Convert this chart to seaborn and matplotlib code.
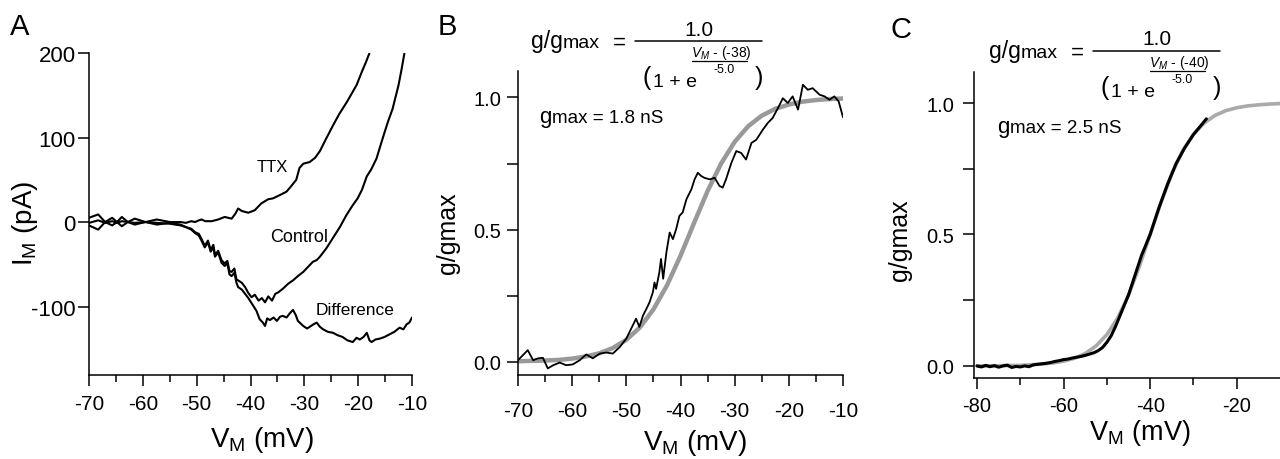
import numpy as np
import pandas as pd
import seaborn as sns
import matplotlib.pyplot as plt
from matplotlib.lines import Line2D
from matplotlib.ticker import MultipleLocator, FixedLocator

# ---- Panel A: I-V curves (mV, pA) ----
ttx_v = [-70, -68.3, -67, -65.7, -64.8, -63.9, -62.8, -61.5, -59.5, -57.4, -55, -53, -52,
         -51, -50.3, -49.6, -49.1, -48.4, -47.2, -46, -44.8, -43.5, -42.8, -42.3, -41.6,
         -40.4, -39.2, -38.0, -36.7, -35.8, -34.2, -33.3, -32.5, -31.5, -30.9, -30.2, -29,
         -28, -27.1, -26, -24.7, -23.5, -22.1, -21.2, -20.3, -19.3, -18.5, -17.9]
ttx_i = [5, 9, 0, 5, 0, 6, 0, 4, 0, 3, 0, 0, -1,
         1, 0, 2, 3, 1, 1, 3, 6, 4, 10, 16, 13,
         11, 14, 22, 27, 28, 33, 36, 42, 50, 64, 69, 71,
         76, 84, 98, 114, 128, 142, 152, 162, 178, 190, 200]

ctrl_v = [-70, -68.3, -67, -65.7, -64.8, -63.9, -62.8, -61.5, -59.5, -57.4, -55, -53, -52,
          -51, -50.3, -49.6, -49.1, -48.5, -47.9, -47.4, -46.9, -46.6, -46.0, -45.4, -44.8,
          -44.3, -43.9, -43.5, -43.0, -42.6, -42.3, -41.6, -41.0, -40.4, -39.8, -39.2, -38.5,
          -37.9, -37.3, -36.7, -36.0, -35.4, -34.8, -34.0, -33.0, -32.1, -31.2, -30.2, -29.3,
          -28.4, -27.7, -27.1, -26.5, -25.9, -25.3, -24.7, -24.0, -23.4, -22.8, -22.2, -21.6,
          -21.0, -20.1, -19.3, -18.4, -17.6, -16.6, -15.4, -14.5, -13.6, -12.5, -11.9, -11.4]
ctrl_i = [-4, -9, 0, -4, 0, -5, 0, -3, 0, -3, -1, -3, -6,
          -8, -12, -14, -20, -28, -22, -33, -27, -39, -34, -45, -49,
          -46, -58, -59, -55, -68, -69, -72, -77, -84, -89, -86, -93,
          -90, -95, -88, -93, -85, -83, -79, -73, -69, -64, -59, -53,
          -47, -45, -41, -36, -31, -25, -19, -12, -6, 1, 8, 14,
          20, 28, 38, 54, 62, 75, 100, 118, 134, 162, 182, 200]

diff_v = [-70, -68.3, -67, -65.7, -64.8, -63.9, -62.8, -61.5, -59.5, -57.4, -55, -53, -52,
          -51, -50.3, -49.6, -49.1, -48.5, -47.9, -47.4, -46.9, -46.6, -46.0, -45.4, -44.8,
          -44.3, -43.9, -43.5, -43.0, -42.6, -42.3, -41.6, -41.0, -40.4, -39.8, -39.5, -38.9,
          -38.3, -37.7, -37.3, -36.9, -36.4, -35.7, -35.1, -34.5, -34.0, -33.3, -32.7, -32.1,
          -31.6, -31.2, -30.2, -29.5, -29.0, -28.3, -27.7, -27.1, -26.5, -25.6, -24.7, -23.8,
          -22.9, -22.0, -21.0, -20.3, -19.7, -19.0, -18.4, -17.9, -17.5, -16.8, -16.0, -15.1,
          -14.2, -13.3, -12.3, -11.6, -11.0, -10.5, -10.0]
diff_i = [-1, 2, -1, 1, -1, 1, 0, -1, 0, -1, -2, -4, -6,
          -9, -13, -16, -22, -30, -24, -35, -30, -41, -36, -48, -52,
          -49, -62, -64, -60, -72, -77, -80, -85, -90, -96, -99, -105,
          -115, -119, -123, -114, -116, -113, -117, -112, -111, -113, -108, -104,
          -110, -117, -123, -126, -124, -121, -119, -124, -127, -130, -131, -134,
          -136, -140, -142, -137, -139, -136, -131, -140, -142, -139, -138, -136,
          -133, -130, -125, -127, -121, -119, -113]

# ---- Panel B: normalised conductance, cell 1 ----
b_v = [-70, -69.1, -68.2, -67.2, -66.3, -65.4, -64.5, -63.5, -62.3, -61.1, -59.9, -58.6,
       -57.4, -56.2, -54.9, -53.7, -52.5, -51.2, -50.0, -48.8, -48.2, -47.6, -46.9, -46.3,
       -45.7, -45.1, -44.8, -44.5, -43.9, -43.6, -43.2, -42.6, -42.0, -41.4, -40.8, -40.2,
       -39.6, -38.9, -38.0, -37.4, -36.8, -36.2, -35.6, -34.6, -33.7, -32.8, -32.2, -31.6,
       -30.6, -29.7, -28.8, -27.9, -26.9, -26.0, -24.8, -23.9, -23.0, -22.0, -21.1, -20.2,
       -19.3, -18.3, -17.4, -16.5, -15.6, -14.3, -13.4, -12.5, -11.6, -10.8, -10.0]
b_g = [0.006, 0.025, 0.044, 0.006, 0.013, 0.015, -0.025, -0.013, -0.003, -0.013, -0.010, 0.006,
       0.028, 0.013, 0.031, 0.035, 0.031, 0.056, 0.088, 0.138, 0.163, 0.132, 0.176, 0.200,
       0.226, 0.263, 0.30, 0.276, 0.339, 0.389, 0.314, 0.414, 0.489, 0.464, 0.502, 0.552,
       0.565, 0.615, 0.652, 0.690, 0.715, 0.703, 0.696, 0.690, 0.696, 0.665, 0.659, 0.690,
       0.753, 0.797, 0.790, 0.765, 0.828, 0.840, 0.878, 0.903, 0.922, 0.960, 0.997, 0.979,
       1.004, 0.954, 1.048, 1.029, 1.035, 1.010, 1.004, 0.991, 1.004, 0.985, 0.925]
b_fit_v = [-70, -65, -62.5, -60, -57.5, -55, -52.5, -50, -47.5, -45, -42.5, -40, -37.5, -35,
           -32.5, -30, -27.5, -25, -22.5, -20, -17.5, -15, -12.5, -10]
b_fit_g = [0.002, 0.005, 0.007, 0.012, 0.020, 0.032, 0.052, 0.083, 0.130, 0.198, 0.289, 0.401,
           0.525, 0.646, 0.750, 0.832, 0.891, 0.931, 0.957, 0.973, 0.984, 0.990, 0.994, 0.996]
b_vhalf, b_slope, b_gmax = -38, -5.0, 1.8

# ---- Panel C: normalised conductance, cell 2 ----
c_v = [-80, -79, -78, -77, -76, -75, -74, -73, -72, -71, -70, -69, -68, -67, -66, -65, -64,
       -63, -62, -61, -60, -59, -58, -57, -56, -55, -54, -53, -52, -51, -50, -49, -48, -47,
       -46, -45, -44, -43, -42, -41, -40, -39, -38, -37, -36, -35, -34, -33, -32, -31, -30,
       -29, -28, -27]
c_g = [0.0, -0.004, 0.002, -0.003, 0.001, -0.005, 0.0, 0.003, -0.006, -0.002, -0.004, 0.0,
       -0.003, 0.004, 0.006, 0.008, 0.010, 0.013, 0.017, 0.020, 0.024, 0.026, 0.030, 0.033,
       0.036, 0.040, 0.045, 0.050, 0.058, 0.070, 0.090, 0.115, 0.150, 0.190, 0.230, 0.270,
       0.320, 0.370, 0.420, 0.460, 0.500, 0.550, 0.600, 0.645, 0.690, 0.730, 0.770, 0.800,
       0.830, 0.855, 0.880, 0.900, 0.920, 0.940]
c_fit_v = [-80, -75, -70, -65, -62.5, -60, -57.5, -55, -52.5, -50, -47.5, -45, -42.5, -40,
           -37.5, -35, -32.5, -30, -27.5, -25, -22.5, -20, -17.5, -15, -12.5, -10]
c_fit_g = [0.000, 0.001, 0.002, 0.007, 0.011, 0.018, 0.029, 0.047, 0.076, 0.119, 0.182, 0.269,
           0.378, 0.500, 0.622, 0.731, 0.818, 0.881, 0.924, 0.953, 0.971, 0.982, 0.989, 0.993,
           0.996, 0.998]
c_vhalf, c_slope, c_gmax = -40, -5.0, 2.5

# ---- style ----
sns.set_style('ticks')
plt.rcParams['font.family'] = ['Liberation Sans', 'DejaVu Sans']
plt.rcParams['mathtext.fontset'] = 'custom'
plt.rcParams['mathtext.rm'] = 'Liberation Sans'
plt.rcParams['mathtext.it'] = 'Liberation Sans:italic'
plt.rcParams['mathtext.default'] = 'regular'
plt.rcParams['axes.unicode_minus'] = False
plt.rcParams['text.color'] = 'black'
plt.rcParams['axes.labelcolor'] = 'black'
plt.rcParams['axes.edgecolor'] = 'black'
plt.rcParams['xtick.color'] = 'black'
plt.rcParams['ytick.color'] = 'black'
plt.rcParams['axes.linewidth'] = 1.1
for k in ['xtick.major.width', 'ytick.major.width', 'xtick.minor.width', 'ytick.minor.width']:
    plt.rcParams[k] = 1.1

W, H = 1280, 460
fig = plt.figure(figsize=(12.8, 4.6), dpi=100)


def fx(x):
    return x / W


def fy(y):
    return 1 - y / H


def add_axes(left, top, right, bottom):
    return fig.add_axes([fx(left), fy(bottom), (right - left) / W, (bottom - top) / H])


axA = add_axes(89, 54, 412, 376)
axB = add_axes(518, 72, 843, 376)
axC = add_axes(974, 73, 1280, 379)

for ax in (axA, axB, axC):
    sns.despine(ax=ax)
    ax.tick_params(axis='both', which='major', direction='out', length=8)
    ax.tick_params(axis='both', which='minor', direction='out', length=5)

axA.tick_params(axis='x', labelsize=15, pad=6)
axA.tick_params(axis='y', labelsize=16, pad=1.5)
axB.tick_params(axis='x', labelsize=15, pad=11)
axB.tick_params(axis='y', labelsize=14.5, pad=4)
axC.tick_params(axis='x', labelsize=14.5, pad=5)
axC.tick_params(axis='y', labelsize=14.5, pad=6)

# Panel A
lw_a = 1.5
sns.lineplot(x=ttx_v, y=ttx_i, ax=axA, color='black', lw=lw_a, sort=False, estimator=None)
sns.lineplot(x=ctrl_v, y=ctrl_i, ax=axA, color='black', lw=lw_a, sort=False, estimator=None)
sns.lineplot(x=diff_v, y=diff_i, ax=axA, color='black', lw=lw_a, sort=False, estimator=None)
axA.set_xlim(-70, -10)
axA.set_ylim(-181, 200)
axA.xaxis.set_major_locator(MultipleLocator(10))
axA.xaxis.set_minor_locator(MultipleLocator(5))
axA.yaxis.set_major_locator(FixedLocator([-100, 0, 100, 200]))
axA.set_xlabel('V$_{M}$ (mV)', fontsize=20)
axA.set_ylabel('I$_{M}$ (pA)', fontsize=20)
axA.text(-36.0, 66, 'TTX', fontsize=12, ha='center', va='center')
axA.text(-30.9, -17, 'Control', fontsize=13, ha='center', va='center')
axA.text(-20.6, -103, 'Difference', fontsize=12.5, ha='center', va='center')
axA.xaxis.set_label_coords((262 - 89) / 323, (376 - 440) / 322)
axA.yaxis.set_label_coords((25 - 89) / 323, (376 - 223) / 322)

# Panel B
sns.lineplot(x=b_fit_v, y=b_fit_g, ax=axB, color='#999999', lw=3.2, sort=False, estimator=None)
sns.lineplot(x=b_v, y=b_g, ax=axB, color='black', lw=1.3, sort=False, estimator=None)
axB.set_xlim(-70, -10)
axB.set_ylim(-0.05, 1.1)
axB.xaxis.set_major_locator(MultipleLocator(10))
axB.xaxis.set_minor_locator(MultipleLocator(5))
axB.yaxis.set_major_locator(FixedLocator([0.0, 0.5, 1.0]))
axB.yaxis.set_minor_locator(FixedLocator([0.25, 0.75]))
axB.tick_params(axis='y', which='minor', length=8)
axB.yaxis.set_major_formatter(plt.FormatStrFormatter('%.1f'))
axB.set_xlabel('V$_{M}$ (mV)', fontsize=20)
axB.set_ylabel('g/gmax', fontsize=18)
axB.xaxis.set_label_coords((695 - 518) / 325, (376 - 443) / 304)
axB.yaxis.set_label_coords((448 - 518) / 325, (376 - 233) / 304)

# Panel C
sns.lineplot(x=c_fit_v, y=c_fit_g, ax=axC, color='#aaaaaa', lw=2.6, sort=False, estimator=None)
sns.lineplot(x=c_v, y=c_g, ax=axC, color='black', lw=2.2, sort=False, estimator=None)
axC.set_xlim(-80.7, -10)
axC.set_ylim(-0.046, 1.118)
axC.xaxis.set_major_locator(MultipleLocator(20))
axC.xaxis.set_minor_locator(FixedLocator([-70, -50, -30]))
axC.yaxis.set_major_locator(FixedLocator([0.0, 0.5, 1.0]))
axC.yaxis.set_minor_locator(FixedLocator([0.25, 0.75]))
axC.tick_params(axis='y', which='minor', length=8)
axC.yaxis.set_major_formatter(plt.FormatStrFormatter('%.1f'))
axC.set_xlabel('V$_{M}$ (mV)', fontsize=19.5)
axC.set_ylabel('g/gmax', fontsize=18)
axC.xaxis.set_label_coords((1140 - 974) / 306, (379 - 433) / 306)
axC.yaxis.set_label_coords((900 - 974) / 306, (379 - 240) / 306)

for ax in (axA, axB, axC):
    ax.xaxis.label.set_va('center')
    ax.yaxis.label.set_va('center')


# equations drawn in figure pixels; C is the B layout shifted by (dx, dy)
def boltz_text(dx, dy, vhalf, slope, gmax):
    def t(x, y, s, **kw):
        fig.text(fx(x + dx), fy(y + dy), s, **kw)

    def hline(x0, x1, y, lw):
        fig.add_artist(Line2D([fx(x0 + dx), fx(x1 + dx)], [fy(y + dy)] * 2,
                              color='black', lw=lw, transform=fig.transFigure))

    t(531, 48, 'g/g', fontsize=16.5, va='baseline')
    t(563, 48, 'max', fontsize=14, va='baseline')
    t(619, 43, '=', fontsize=16, ha='center', va='center')
    hline(635, 762, 42, 1.1)
    t(699, 30, '1.0', fontsize=15, ha='center', va='center')
    t(647, 78, '(', fontsize=18, ha='center', va='center')
    t(653, 87, '1 + e', fontsize=14, va='baseline')
    t(721, 53, r'$\mathit{V_M}$ - (%d)' % vhalf, fontsize=10, ha='center', va='center')
    hline(692, 747, 62, 0.9)
    t(724, 70, '%.1f' % slope, fontsize=9, ha='center', va='center')
    t(759, 78, ')', fontsize=18, ha='center', va='center')
    # g_max annotation
    t(539, 123, 'g', fontsize=16, va='baseline')
    t(552, 123, 'max = %.1f nS' % gmax, fontsize=13.5, va='baseline')


boltz_text(0, 0, b_vhalf, b_slope, b_gmax)
boltz_text(458, 10, c_vhalf, c_slope, c_gmax)

# panel letters
fig.text(fx(10), fy(35), 'A', fontsize=21, va='baseline')
fig.text(fx(438), fy(35), 'B', fontsize=21, va='baseline')
fig.text(fx(890), fy(38), 'C', fontsize=21, va='baseline')

fig.savefig('out.png', dpi=100)
